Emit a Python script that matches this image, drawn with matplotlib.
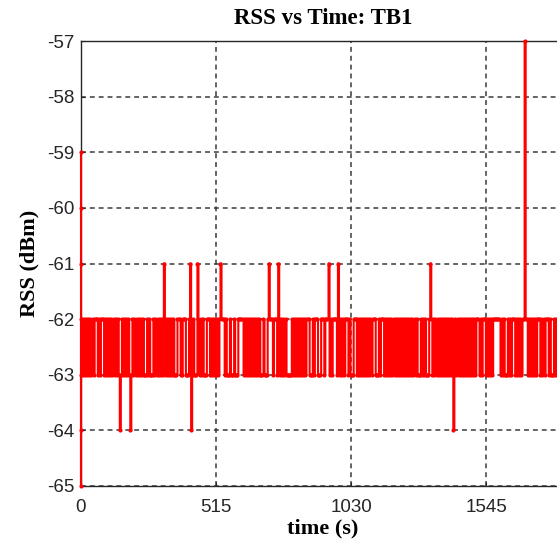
import numpy as np
import matplotlib
matplotlib.use("Agg")
import matplotlib.pyplot as plt

plt.rcParams["axes.unicode_minus"] = False
plt.rcParams["path.simplify"] = False

# first readings right at t = 0 (sensor settling)
start_time = [0, 0, 0, 0, 0, 0, 0]
start_rss = [-59, -60, -61, -65, -64, -63, -62]

# afterwards one reading every 4 s, coded as one char per reading
sample_step = 4
level_code = {"1": -61, "2": -62, "3": -63, "4": -64, "7": -57}
band_runs = [
    "232323232323", "222", "323", "222", "323232323232323", "4",
    "323232323", "4", "323232323232", "333", "232", "333",
    "2323232323", "1", "232323232", "333", "222", "33", "222", "333",
    "2", "14", "32", "333", "1", "23232", "333", "222", "323232323",
    "2", "1", "222", "32", "333", "2", "333", "2", "333", "22222",
    "3232323232323232", "333", "2", "333", "2", "1", "222", "3",
    "222", "3", "1", "2323232", "33333", "23232323232323", "222",
    "333", "23", "222", "333", "222", "3", "222", "1", "323", "2222",
    "3", "1", "232323", "222", "32", "333", "222",
    "323232323232323", "222", "333", "23", "222",
    "32323232323232323232323232323232", "333", "23232", "333", "2",
    "1", "232323232323232323232", "4", "323232323232323232323",
    "222", "323", "222", "3232323", "2222222", "3232", "333", "2323",
    "222", "3232323", "22", "7", "22", "323232323", "222", "32323",
    "222", "32", "333", "232323232323",
]

levels = "".join(band_runs)
band_rss = [level_code[c] for c in levels]
band_time = sample_step * (1 + np.arange(len(band_rss)))

time = np.concatenate([start_time, band_time])
rss = np.concatenate([start_rss, band_rss])

x_ticks = [0, 515, 1030, 1545]
y_ticks = [-65, -64, -63, -62, -61, -60, -59, -58, -57]

fig = plt.figure(figsize=(5.57, 5.40), dpi=100)
ax = fig.add_axes([81 / 557, 54 / 540, 484 / 557, 445 / 540])

ax.plot(time, rss, color="#ff0000", linewidth=1.5, drawstyle="steps-post",
        marker="o", markersize=3.0, markeredgewidth=0,
        zorder=3, clip_on=False, snap=False)

ax.set_xlim(0, 1846)
ax.set_ylim(-65, -57)
ax.set_xticks(x_ticks)
ax.set_yticks(y_ticks)
ax.set_axisbelow(True)
ax.grid(True, color="#3a3a3a", linewidth=1.1, linestyle=(0, (3.2, 2.6)))

for sp in ax.spines.values():
    sp.set_color("#262626")
    sp.set_linewidth(1.0)

ax.tick_params(direction="in", length=3, width=0.8, colors="#262626",
               labelsize=13.5, pad=5)
ax.tick_params(axis="x", pad=9)
for lab in ax.get_xticklabels() + ax.get_yticklabels():
    lab.set_family("Liberation Sans")
    lab.set_color("#262626")

serif = {"family": "Liberation Serif", "weight": "bold"}
ax.set_title("RSS vs Time: TB1", fontsize=16.5, pad=12, **serif)
ax.set_xlabel("time (s)", fontsize=16, labelpad=2, **serif)
ax.set_ylabel("RSS (dBm)", fontsize=16, labelpad=5, **serif)

fig.savefig("out.png", dpi=100)
